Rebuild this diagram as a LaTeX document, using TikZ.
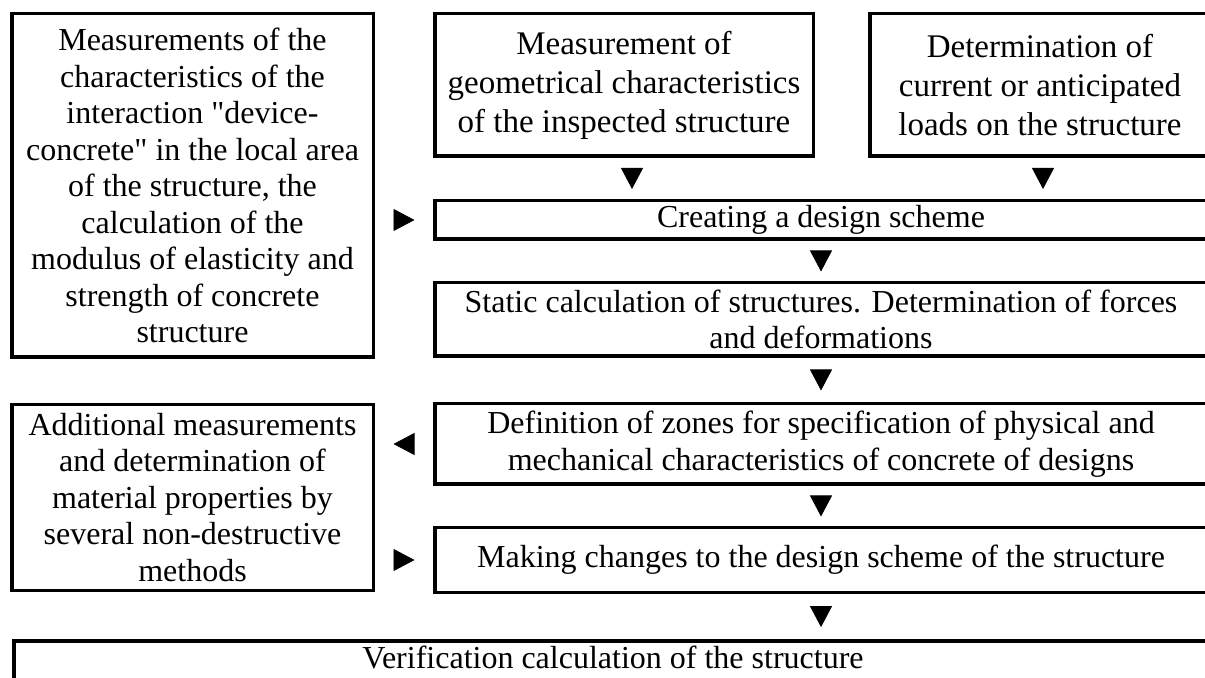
\documentclass[tikz,border=0pt]{standalone}
\usepackage{fontspec}
\setmainfont{Liberation Serif}
\usetikzlibrary{arrows.meta,decorations.markings}

\tikzset{
  box/.style={draw, line width=1.75pt, inner sep=0pt, align=center},
  wide/.style={box, minimum width=386.25pt},
  top/.style={box, minimum height=71.25pt, font=\fontsize{16.5}{19.5}\selectfont},
  tri/.style={decoration={markings,
      mark=at position 0.5 with {\arrow[xshift=5.25pt]{Triangle[length=10.5pt,width=11pt]}}},
    postaction={decorate}}
}

\begin{document}
\begin{tikzpicture}[x=0.5pt,y=-0.5pt,font=\fontsize{16}{18.25}\selectfont]
  \useasboundingbox (0,0) rectangle (1205,678);
  \clip (0,0) rectangle (1205,678);

  % left column
  \node[box, minimum width=180.75pt, minimum height=171.75pt] (meas) at (192.5,185.5)
    {Measurements of the\\ characteristics of the\\ interaction \textquotedbl device-\\
     concrete\textquotedbl{} in the local area\\ of the structure, the\\ calculation of the\\
     modulus of elasticity and\\ strength of concrete\\ structure};
  \node[box, minimum width=180.75pt, minimum height=92.75pt] (add) at (192.5,497.5)
    {Additional measurements\\ and determination of\\ material properties by\\
     several non-destructive\\ methods};

  % top row
  \node[top, minimum width=189.25pt] (geom) at (624,85)
    {Measurement of\\ geometrical characteristics\\ of the inspected structure};
  \node[top, minimum width=170.25pt] (loads) at (1040,85)
    {Determination of\\ current or anticipated\\ loads on the structure};

  % main chain
  \node[wide, minimum height=19.25pt] (scheme) at (821,220) {Creating a design scheme};
  \node[wide, minimum height=36.75pt] (static) at (821,319.5)
    {Static calculation of structures. Determination of forces\\ and deformations};
  \node[wide, minimum height=40.25pt] (zones) at (821,444)
    {Definition of zones for specification of physical and\\
     mechanical characteristics of concrete of designs};
  \node[wide, minimum height=32.25pt] (changes) at (821,560)
    {Making changes to the design scheme of the structure};
  % last box runs past the lower edge
  \node[box, anchor=base, minimum width=599.25pt, text height=13.5pt, text depth=15pt] (verif)
    at (613,668) {Verification calculation of the structure};

  % triangles between the boxes
  \coordinate (g) at ([xshift=4pt]geom.south);
  \coordinate (l) at ([xshift=1.5pt]loads.south);
  \path[tri] (g) -- (g |- scheme.north);
  \path[tri] (l) -- (l |- scheme.north);
  \path[tri] (meas.east |- scheme.west) -- (scheme.west);
  \path[tri] (scheme.south) -- (static.north);
  \path[tri] (static.south) -- (zones.north);
  \path[tri] (zones.west) -- (add.east |- zones.west);
  \path[tri] (zones.south) -- (changes.north);
  \path[tri] (add.east |- changes.west) -- (changes.west);
  \path[tri] (changes.south) -- (changes.south |- verif.north);
\end{tikzpicture}
\end{document}
